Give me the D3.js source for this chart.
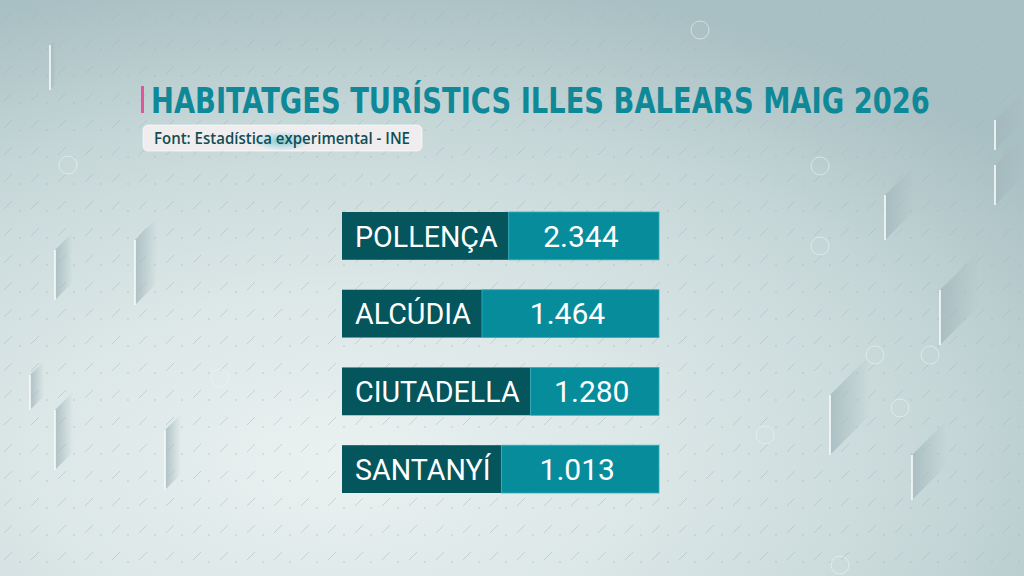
<!DOCTYPE html>
<html>
<head>
<meta charset="utf-8">
<script src="https://cdn.jsdelivr.net/npm/d3@7"></script>
<style>
  html, body { margin: 0; padding: 0; background: #d4e0e0; }
  svg { display: block; }
</style>
</head>
<body>
<svg id="chart" width="1024" height="576"></svg>
<script>
// ---- data ----
const titleText = "HABITATGES TURÍSTICS ILLES BALEARS MAIG 2026";
const sourceText = "Font: Estadística experimental - INE";
const categories = ["POLLENÇA", "ALCÚDIA", "CIUTADELLA", "SANTANYÍ"];
const values = [2344, 1464, 1280, 1013];

// ---- setup ----
const W = 1024, H = 576;
const svg = d3.select("#chart");
const defs = svg.append("defs");

const bg = defs.append("radialGradient").attr("id", "bg")
  .attr("cx", "0.33").attr("cy", "0.8").attr("r", "0.85");
bg.append("stop").attr("offset", "0").attr("stop-color", "#eaf1f1");
bg.append("stop").attr("offset", "0.35").attr("stop-color", "#dce7e7");
bg.append("stop").attr("offset", "0.7").attr("stop-color", "#c6d7d8");
bg.append("stop").attr("offset", "1").attr("stop-color", "#a8bfc3");

const pat = defs.append("pattern").attr("id", "dashes")
  .attr("patternUnits", "userSpaceOnUse").attr("width", 27).attr("height", 27);
pat.append("line").attr("x1", 4).attr("y1", 20).attr("x2", 12).attr("y2", 12)
  .attr("stroke", "#9fb5b8").attr("stroke-width", 1).attr("stroke-opacity", 0.45);
pat.append("circle").attr("cx", 20).attr("cy", 22).attr("r", 0.9)
  .attr("fill", "#9fb5b8").attr("fill-opacity", 0.45);

const glow = defs.append("radialGradient").attr("id", "glow");
glow.append("stop").attr("offset", "0").attr("stop-color", "#5cc3cf").attr("stop-opacity", 0.75);
glow.append("stop").attr("offset", "1").attr("stop-color", "#5cc3cf").attr("stop-opacity", 0);

const shade = defs.append("linearGradient").attr("id", "shade")
  .attr("x1", "0").attr("x2", "1").attr("y1", "0").attr("y2", "0");
shade.append("stop").attr("offset", "0").attr("stop-color", "#a3b8bc").attr("stop-opacity", 0.8);
shade.append("stop").attr("offset", "1").attr("stop-color", "#a3b8bc").attr("stop-opacity", 0);

svg.append("rect").attr("width", W).attr("height", H).attr("fill", "url(#bg)");
svg.append("rect").attr("width", W).attr("height", H).attr("fill", "url(#dashes)");

// decorative parallelograms (background ornament)
const deco = [
  [135, 240, 22, 65], [55, 250, 18, 50], [55, 410, 18, 60], [165, 430, 16, 60],
  [30, 375, 14, 35], [885, 195, 30, 45], [940, 290, 40, 55], [830, 395, 40, 60],
  [912, 455, 35, 45], [995, 120, 30, 30], [995, 165, 30, 40], [50, 45, 6, 45]
];
const dg = svg.append("g").attr("class", "deco");
deco.forEach(([x, y, w, h]) => {
  dg.append("path")
    .attr("d", `M${x},${y} L${x + w},${y - w} L${x + w},${y - w + h} L${x},${y + h} Z`)
    .attr("fill", "url(#shade)");
  dg.append("line").attr("x1", x).attr("x2", x).attr("y1", y).attr("y2", y + h)
    .attr("stroke", "#f4f8f8").attr("stroke-width", 2).attr("stroke-opacity", 0.85);
});
const circ = [[68, 165], [220, 378], [820, 166], [820, 246], [900, 408], [765, 435], [930, 355], [700, 30], [840, 565], [875, 355]];
circ.forEach(([x, y]) => {
  dg.append("circle").attr("cx", x).attr("cy", y).attr("r", 9)
    .attr("fill", "none").attr("stroke", "#eef4f4").attr("stroke-opacity", 0.6);
});

// ---- title ----
svg.append("rect").attr("x", 141).attr("y", 86).attr("width", 3).attr("height", 27)
  .attr("fill", "#e0569c");
const titleG = svg.append("g");
const title = titleG.append("text")
  .attr("x", 0).attr("y", 0)
  .attr("font-family", "'DejaVu Sans Condensed', 'DejaVu Sans', sans-serif")
  .attr("font-weight", "bold").attr("font-size", 36)
  .attr("fill", "#0f8897")
  .text(titleText);
const tW = title.node().getComputedTextLength();
titleG.attr("transform", `translate(151,113) scale(${779 / tW},1)`);

// source pill
svg.append("rect").attr("x", 143).attr("y", 125).attr("width", 279).attr("height", 26)
  .attr("rx", 5).attr("fill", "#f3eff1").attr("fill-opacity", 0.92)
  .attr("stroke", "#ffffff").attr("stroke-opacity", 0.6);
svg.append("ellipse").attr("cx", 282).attr("cy", 141).attr("rx", 30).attr("ry", 10)
  .attr("fill", "url(#glow)");
svg.append("text")
  .attr("x", 154).attr("y", 143.5)
  .attr("font-family", "'Open Sans', sans-serif")
  .attr("font-weight", 600).attr("font-size", 16)
  .attr("fill", "#124d54")
  .attr("textLength", 256).attr("lengthAdjust", "spacingAndGlyphs")
  .text(sourceText);

// ---- bars ----
const fmt = d3.formatLocale({ decimal: ",", thousands: ".", grouping: [3], currency: ["", "€"] }).format(",d");
const rows = categories.map((c, i) => ({ cat: c, val: values[i] }));

const y = d3.scaleBand().domain(categories).range([212, 493]).paddingInner(0.385).paddingOuter(0);
const x = d3.scaleLinear().domain([0, 1]).range([342, 659]); // panel extent
const fs = 30, padL = 13, padR = 11, squeeze = 0.955;

const g = svg.append("g").attr("class", "rows");
const row = g.selectAll("g.row").data(rows).join("g").attr("class", "row")
  .attr("transform", d => `translate(0,${y(d.cat)})`);

const labelTexts = row.append("text")
  .attr("font-family", "Roboto, sans-serif").attr("font-weight", 400)
  .attr("font-size", fs).attr("fill", "#ffffff")
  .attr("y", y.bandwidth() / 2 + fs * 0.36)
  .text(d => d.cat);
labelTexts.each(function (d) {
  d.tw = this.getComputedTextLength() * squeeze;
  d.labelW = padL + d.tw + padR;
  d.left = x(0);
  d.split = d.left + d.labelW;
});

row.insert("rect", "text").attr("class", "lab")
  .attr("x", d => d.left).attr("width", d => d.labelW)
  .attr("height", y.bandwidth()).attr("fill", "#04555c");
row.insert("rect", "text").attr("class", "val")
  .attr("x", d => d.split).attr("width", d => x(1) - d.split)
  .attr("height", y.bandwidth()).attr("fill", "#078c9c")
  .attr("stroke", "#2fb0bf").attr("stroke-width", 0.8);

labelTexts
  .attr("x", d => d.left + padL)
  .attr("textLength", d => d.tw).attr("lengthAdjust", "spacingAndGlyphs");

row.append("text")
  .attr("font-family", "Roboto, sans-serif").attr("font-weight", 400)
  .attr("font-size", fs).attr("fill", "#ffffff")
  .attr("text-anchor", "middle")
  .attr("x", d => (d.split + x(1)) / 2 - 3)
  .attr("y", y.bandwidth() / 2 + fs * 0.36)
  .text(d => fmt(d.val));
</script>
</body>
</html>
